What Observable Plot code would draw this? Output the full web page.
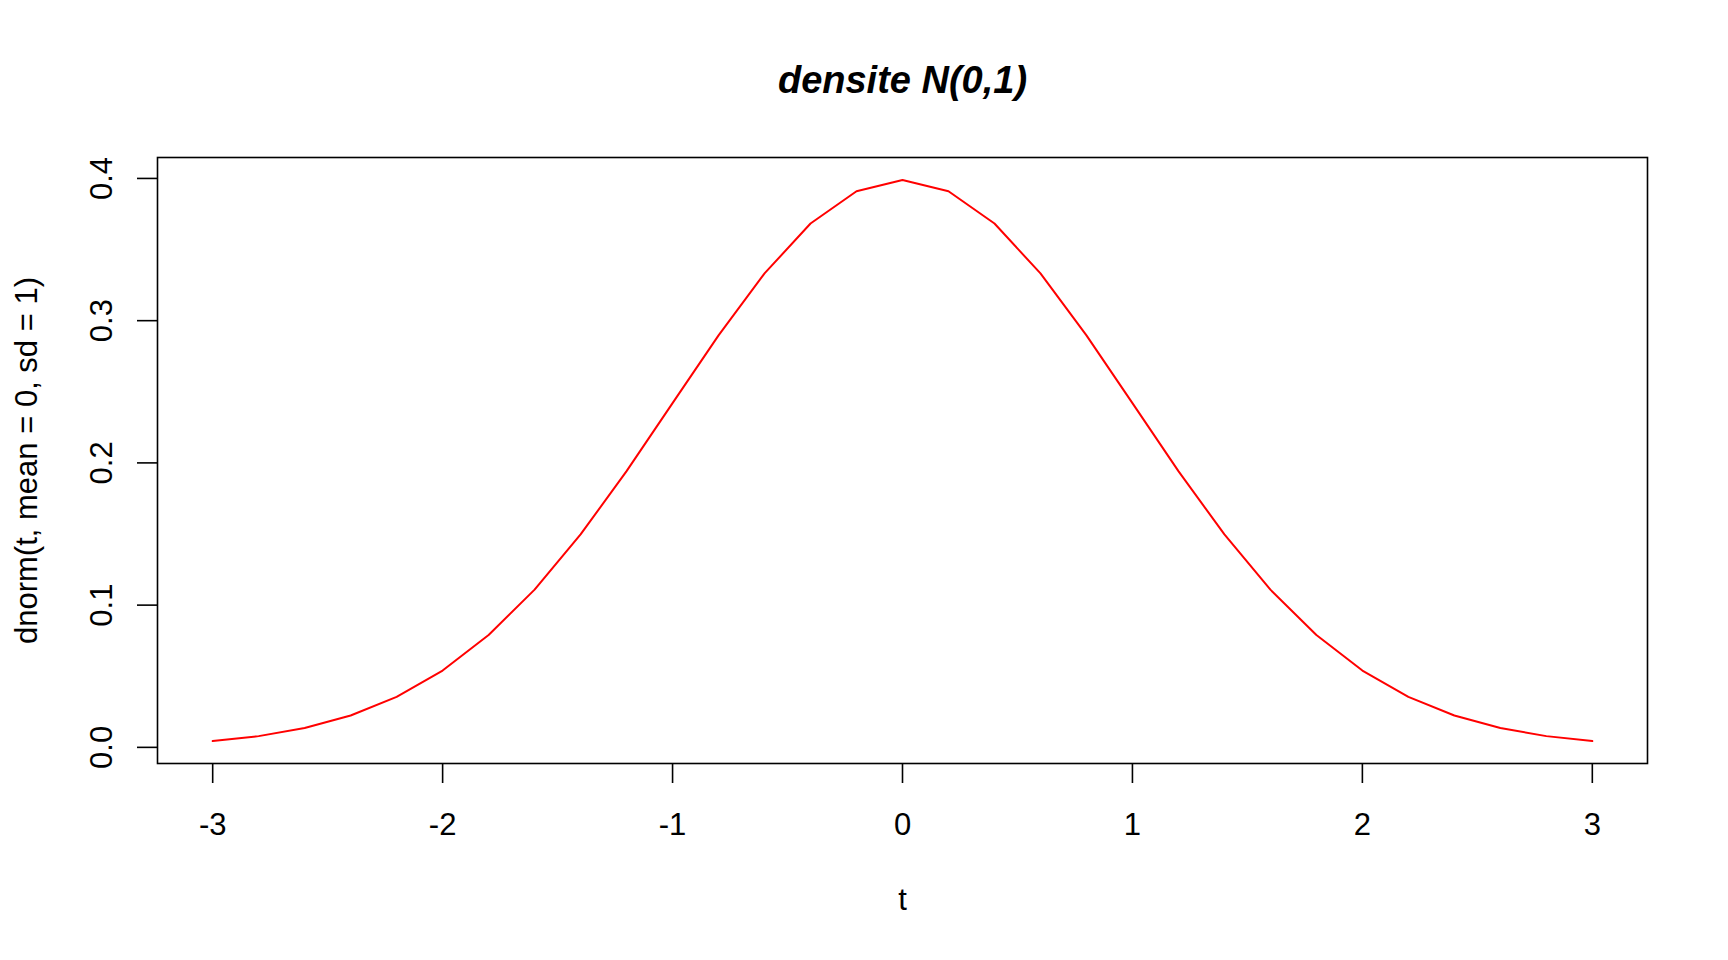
<!DOCTYPE html>
<html>
<head>
<meta charset="utf-8">
<script src="https://cdn.jsdelivr.net/npm/d3@7"></script>
<script src="https://cdn.jsdelivr.net/npm/@observablehq/plot@0.6"></script>
<style>
  html, body { margin: 0; padding: 0; background: #fff; }
  #chart svg { display: block; }
</style>
</head>
<body>
<div id="chart"></div>
<script>
// Data: t = -3..3 by 0.2, density of N(0,1)
const tValues = [-3, -2.8, -2.6, -2.4, -2.2, -2, -1.8, -1.6, -1.4, -1.2, -1, -0.8, -0.6, -0.4, -0.2, 0,
                 0.2, 0.4, 0.6, 0.8, 1, 1.2, 1.4, 1.6, 1.8, 2, 2.2, 2.4, 2.6, 2.8, 3];
const densityValues = [0.0044, 0.0079, 0.0136, 0.0224, 0.0355, 0.0540, 0.0790, 0.1109, 0.1497, 0.1942,
                       0.2420, 0.2897, 0.3332, 0.3683, 0.3910, 0.3989, 0.3910, 0.3683, 0.3332, 0.2897,
                       0.2420, 0.1942, 0.1497, 0.1109, 0.0790, 0.0540, 0.0355, 0.0224, 0.0136, 0.0079, 0.0044];
const xTicks = [-3, -2, -1, 0, 1, 2, 3];
const yTicks = [0.0, 0.1, 0.2, 0.3, 0.4];
const yTickLabels = ["0.0", "0.1", "0.2", "0.3", "0.4"];
const titleText = "densite N(0,1)";
const xLabel = "t";
const yLabel = "dnorm(t, mean = 0, sd = 1)";

const data = tValues.map((t, i) => ({t, d: densityValues[i]}));
const yTickData = yTicks.map((v, i) => ({v, label: yTickLabels[i]}));

const font = "'Liberation Sans', Arial, Helvetica, sans-serif";
const tickFont = 31;

const chart = Plot.plot({
  width: 1728,
  height: 960,
  marginLeft: 157,
  marginRight: 81,
  marginTop: 157,
  marginBottom: 197,
  style: {fontFamily: font, background: "#fff", color: "#000"},
  x: {domain: [-3.24, 3.24], axis: null},
  y: {domain: [-0.01135, 0.41472], axis: null},
  marks: [
    Plot.frame({stroke: "#000", strokeWidth: 1.6}),
    Plot.line(data, {x: "t", y: "d", stroke: "#ff0000", strokeWidth: 2}),
    Plot.axisX({ticks: xTicks, tickSize: 20, tickPadding: 29, fontSize: tickFont, label: null,
                tickFormat: d => String(d).replace("\u2212", "-"), stroke: "#000", strokeWidth: 1.6, fill: "#000"}),
    Plot.axisY({ticks: yTicks, tickSize: 20, tickFormat: () => "", label: null, stroke: "#000", strokeWidth: 1.6}),
    Plot.text(yTickData, {y: "v", text: "label", frameAnchor: "left", dx: -46, rotate: -90,
                          textAnchor: "middle", lineAnchor: "bottom", fontSize: tickFont, fill: "#000"}),
    Plot.text([titleText], {frameAnchor: "top", dy: -65, lineAnchor: "bottom", fontSize: 38,
                            fontWeight: "bold", fontStyle: "italic", fill: "#000"}),
    Plot.text([xLabel], {frameAnchor: "bottom", dy: 146, lineAnchor: "bottom", fontSize: tickFont, fill: "#000"}),
    Plot.text([yLabel], {frameAnchor: "left", dx: -121, rotate: -90, textAnchor: "middle", lineAnchor: "bottom",
                         fontSize: tickFont, fill: "#000"})
  ]
});
document.getElementById("chart").appendChild(chart);
</script>
</body>
</html>
